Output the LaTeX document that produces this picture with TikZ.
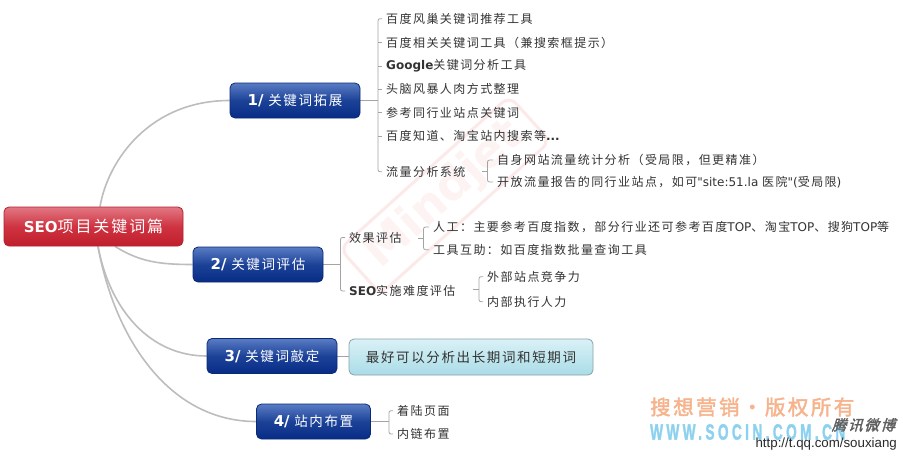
\documentclass[tikz,border=0pt]{standalone}
\usepackage{fontspec}
\setmainfont{Noto Sans CJK SC}[LetterSpace=12]
\newfontfamily\lat{DejaVu Sans}
\newfontfamily\wmcjk{Noto Sans CJK SC}[LetterSpace=12,AutoFakeBold=2]
\newfontfamily\wmlat{Liberation Sans}[LetterSpace=25,FakeBold=2]
\newfontfamily\urlf{Liberation Sans}
\usetikzlibrary{calc}
\definecolor{lineg}{HTML}{BDBDBD}
\definecolor{brg}{HTML}{A4A4A4}
\definecolor{txt}{HTML}{333333}
\definecolor{rTop}{HTML}{E27883}
\definecolor{rMid}{HTML}{CF3341}
\definecolor{rBot}{HTML}{C01E2C}
\definecolor{rBord}{HTML}{B0222E}
\definecolor{bTop}{HTML}{5A7CC4}
\definecolor{bMid}{HTML}{1C4298}
\definecolor{bBot}{HTML}{082C86}
\definecolor{bBord}{HTML}{0A2A78}
\definecolor{cTop}{HTML}{DAF1F6}
\definecolor{cBot}{HTML}{A9DCE7}
\definecolor{cBord}{HTML}{8AA2A8}
\definecolor{wmOr}{HTML}{F6B38C}
\definecolor{wmBl}{HTML}{8CD2EF}
\definecolor{wmR}{HTML}{FCEAEA}
\definecolor{wmRt}{HTML}{FDF3F3}
\definecolor{logog}{HTML}{5E5E5E}
\definecolor{urlc}{HTML}{2A2A2A}
\pgfdeclarelayer{bg}
\pgfdeclarelayer{lines}
\pgfsetlayers{bg,lines,main}
\begin{document}
\begin{tikzpicture}[x=1pt,y=-1pt,
  rootbox/.style={rounded corners=5pt, draw=rBord, line width=0.8pt,
    top color=rTop, bottom color=rBot, middle color=rMid,
    minimum width=179pt, minimum height=39pt, text=white,
    font=\fontsize{16}{18}\selectfont, inner sep=0pt},
  bluebox/.style={rounded corners=5pt, draw=bBord, line width=0.8pt,
    top color=bTop, bottom color=bBot, middle color=bMid,
    minimum height=35pt, text=white,
    font=\fontsize{13.5}{15}\selectfont, inner sep=0pt},
  cyanbox/.style={rounded corners=5pt, draw=cBord, line width=0.8pt,
    top color=cTop, bottom color=cBot,
    minimum width=244pt, minimum height=36pt, text=txt,
    font=\fontsize{13.5}{15}\selectfont, inner sep=0pt},
  leaf/.style={anchor=west, text=txt, font=\fontsize{12}{14}\selectfont,
    inner xsep=4pt, inner ysep=1pt},
  mainlink/.style={draw=lineg, line width=1.6pt},
  br/.style={draw=brg, line width=0.8pt, rounded corners=2pt}
]
\useasboundingbox (0,0) rectangle (903,456);
\begin{pgfonlayer}{bg}
\fill[white] (0,0) rectangle (903,456);
\node[rotate=42, draw=wmR, line width=3pt, rounded corners=10pt, text=wmRt,
  font=\lat\bfseries\fontsize{46}{46}\selectfont, inner xsep=16pt, inner ysep=8pt]
  (mindwm) at (445,195) {Mindjet};
\end{pgfonlayer}

% main nodes
\node[rootbox] (root) at (93.5,226.5) {{\lat\bfseries\fontsize{15}{15}\selectfont SEO}项目关键词篇};
\node[bluebox, minimum width=130pt] (n1) at (295,100.5) {{\lat\bfseries\fontsize{15}{15}\selectfont 1/} 关键词拓展};
\node[bluebox, minimum width=130pt] (n2) at (258,264.5) {{\lat\bfseries\fontsize{15}{15}\selectfont 2/} 关键词评估};
\node[bluebox, minimum width=130pt] (n3) at (272,356) {{\lat\bfseries\fontsize{15}{15}\selectfont 3/} 关键词敲定};
\node[bluebox, minimum width=114pt] (n4) at (313.5,421.5) {{\lat\bfseries\fontsize{15}{15}\selectfont 4/} 站内布置};

% branch 1
\coordinate (b1) at (378,100.5);
\node[leaf] (c11) at (382,18.7) {百度风巢关键词推荐工具};
\node[leaf] (c12) at (382,42.5) {百度相关关键词工具（兼搜索框提示）};
\node[leaf] (c13) at (382,66) {{\lat\bfseries Google}关键词分析工具};
\node[leaf] (c14) at (382,89.3) {头脑风暴人肉方式整理};
\node[leaf] (c15) at (382,112.5) {参考同行业站点关键词};
\node[leaf] (c16) at (382,136) {百度知道、淘宝站内搜索等{\lat\bfseries ...}};
\node[leaf] (c17) at (382,171.7) {流量分析系统};
\coordinate (s17) at (482,171.5);
\coordinate (b17) at (487.5,171.5);
\node[leaf] (c171) at (493,160) {自身网站流量统计分析（受局限，但更精准）};
\node[leaf] (c172) at (493,182) {开放流量报告的同行业站点，如可{\lat "site:51.la }医院{\lat "(}受局限{\lat )}};

% branch 2
\coordinate (b2) at (340.5,264.5);
\node[leaf] (c21) at (345,237.5) {效果评估};
\node[leaf] (c22) at (345,291) {{\lat\bfseries SEO}实施难度评估};
\coordinate (s21) at (418,238);
\coordinate (b21) at (423.5,238);
\node[leaf] (c211) at (429,227) {人工：主要参考百度指数，部分行业还可参考百度{\lat TOP}、淘宝{\lat TOP}、搜狗{\lat TOP}等};
\node[leaf] (c212) at (429,249.7) {工具互助：如百度指数批量查询工具};
\coordinate (s22) at (473,289.5);
\coordinate (b22) at (479,289.5);
\node[leaf] (c221) at (483,276.7) {外部站点竞争力};
\node[leaf] (c222) at (483,301.7) {内部执行人力};

% branch 3
\node[cyanbox] (c31) at (471,357) {最好可以分析出长期词和短期词};

% branch 4
\coordinate (b4) at (389,421.5);
\node[leaf] (c41) at (393,410.7) {着陆页面};
\node[leaf] (c42) at (393,434) {内链布置};

\begin{pgfonlayer}{lines}
\draw[mainlink] ($(root.north)+(6.5,0)$) .. controls (108,160) and (150,100.5) .. (n1.west);
\draw[mainlink] ($(root.south)+(21.5,0)$) .. controls (140,262) and (160,264.5) .. (n2.west);
\draw[mainlink] ($(root.south)+(4.5,0)$) .. controls (110,310) and (150,356) .. (n3.west);
\draw[mainlink] ($(root.south)+(4.5,0)$) .. controls (115,340) and (170,421.5) .. (n4.west);
% brackets branch 1
\draw[br] (n1.east) -- (b1);
\draw[br] (c11.west) -- (c11.west -| b1) -- (c17.west -| b1) -- (c17.west);
\foreach \k in {2,...,6} \draw[br] (c1\k.west -| b1) -- (c1\k.west);
\draw[br] (s17) -- (b17);
\draw[br] (c171.west) -- (c171.west -| b17) -- (c172.west -| b17) -- (c172.west);
% branch 2
\draw[br] (n2.east) -- (b2);
\draw[br] (c21.west) -- (c21.west -| b2) -- (c22.west -| b2) -- (c22.west);
\draw[br] (s21) -- (b21);
\draw[br] (c211.west) -- (c211.west -| b21) -- (c212.west -| b21) -- (c212.west);
\draw[br] (s22) -- (b22);
\draw[br] (c221.west) -- (c221.west -| b22) -- (c222.west -| b22) -- (c222.west);
% branch 3
\draw[br] (n3.east) -- (n3.east -| c31.west);
% branch 4
\draw[br] (n4.east) -- (b4);
\draw[br] (c41.west) -- (c41.west -| b4) -- (c42.west -| b4) -- (c42.west);
\end{pgfonlayer}

% watermarks bottom right
\node[anchor=west, inner sep=0pt, text=wmOr, font=\wmcjk\bfseries\fontsize{20.5}{22}\selectfont] (wm1) at (650,407) {搜想营销・版权所有};
\node[anchor=west, inner sep=0pt, text=wmBl, font=\wmlat\bfseries\fontsize{22}{22}\selectfont, xscale=0.62, transform shape] (wm2) at (650,432) {WWW.SOCIN.COM.CN};
\node[inner sep=0pt, text=logog, font=\wmcjk\bfseries\fontsize{14.5}{15}\selectfont, xslant=0.3, transform shape] (wb) at (865,425) {腾讯微博};
\node[anchor=east, inner sep=0pt, text=urlc, font=\urlf\fontsize{13.3}{14}\selectfont] (url) at (897,444) {http://t.qq.com/souxiang};
\end{tikzpicture}
\end{document}
